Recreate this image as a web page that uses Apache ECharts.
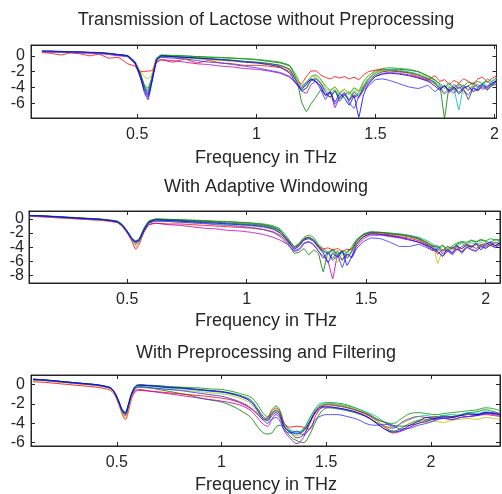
<!DOCTYPE html>
<html><head><meta charset="utf-8">
<script src="https://cdn.jsdelivr.net/npm/echarts@6.0.0/dist/echarts.min.js"></script>
<style>html,body{margin:0;padding:0;background:#fff}#c{width:502px;height:494px}</style>
</head><body><div id="c"></div>
<script>
// ---------- text ----------
const titles = ["Transmission of Lactose without Preprocessing", "With Adaptive Windowing", "With Preprocessing and Filtering"];
const xAxisName = "Frequency in THz";
const xTickValues = [0.5, 1, 1.5, 2];
const yTicks1 = [-6, -4, -2, 0];
const yTicks2 = [-8, -6, -4, -2, 0];
const yTicks3 = [-6, -4, -2, 0];

// ---------- plot 1 : without preprocessing ----------
const freq1 = [0.10,0.14,0.18,0.22,0.26,0.30,0.34,0.38,0.42,0.46,0.49,0.51,0.53,0.545,0.56,0.58,0.60,0.65,0.70,0.75,0.80,0.85,0.90,0.95,1.00,1.05,1.10,1.14,1.17,1.19,1.21,1.23,1.25,1.27,1.29,1.31,1.33,1.35,1.37,1.39,1.41,1.43,1.45,1.47,1.50,1.53,1.56,1.60,1.64,1.68,1.72,1.75,1.77,1.79,1.81,1.83,1.85,1.87,1.89,1.91,1.93,1.95,1.97,1.99,2.01];
const p1Green1 = [0.5,0.55,0.5,0.45,0.45,0.4,0.35,0.3,0.15,0.0,-0.7,-1.9,-3.8,-4.4,-3.0,-0.4,0.05,0.0,-0.05,-0.1,-0.2,-0.25,-0.3,-0.4,-0.5,-0.7,-0.9,-1.3,-3.0,-5.8,-7.0,-6.0,-5.2,-4.3,-4.8,-5.2,-4.4,-5.7,-4.9,-4.5,-5.3,-4.6,-3.8,-2.9,-2.1,-1.8,-1.7,-1.7,-1.8,-2.0,-2.5,-3.0,-3.6,-7.8,-3.9,-4.3,-3.6,-4.1,-3.8,-3.4,-3.9,-3.5,-3.2,-3.7,-3.0];
const p1Green2 = [0.55,0.55,0.5,0.5,0.45,0.4,0.35,0.3,0.15,0.0,-0.8,-2.0,-3.6,-4.1,-2.8,-0.3,0.1,0.05,0.0,-0.1,-0.15,-0.2,-0.3,-0.35,-0.45,-0.6,-0.8,-1.2,-2.6,-3.8,-3.3,-2.6,-2.4,-2.9,-3.8,-4.3,-3.9,-4.6,-4.2,-4.8,-4.0,-4.4,-3.2,-2.5,-1.9,-1.6,-1.5,-1.6,-1.7,-2.0,-2.6,-3.1,-3.5,-3.9,-3.4,-4.0,-3.5,-3.8,-3.3,-3.6,-3.2,-3.5,-2.9,-3.3,-2.6];
const p1Red = [0.4,0.3,0.1,0.35,0.25,0.0,0.2,-0.3,-0.2,-1.0,-1.3,-1.9,-2.0,-1.9,-1.9,-0.8,-0.5,-0.8,-0.4,-0.9,-0.6,-0.9,-1.0,-1.2,-1.2,-1.3,-1.5,-2.0,-3.2,-3.5,-2.6,-1.9,-1.9,-2.4,-2.7,-2.9,-2.6,-2.8,-2.6,-2.9,-2.7,-3.0,-2.4,-2.0,-1.8,-1.7,-1.8,-1.9,-2.2,-2.6,-3.0,-2.5,-3.2,-3.0,-3.6,-3.1,-3.4,-2.9,-3.2,-3.5,-2.9,-2.7,-3.3,-2.8,-2.5];
const p1Cyan = [0.55,0.5,0.5,0.45,0.4,0.4,0.35,0.25,0.1,-0.05,-0.9,-2.2,-4.0,-4.6,-3.1,-0.6,-0.1,-0.15,-0.2,-0.3,-0.4,-0.5,-0.6,-0.7,-0.8,-1.0,-1.2,-1.7,-3.2,-4.5,-4.0,-3.0,-2.8,-3.4,-4.3,-4.8,-4.2,-5.1,-4.6,-5.4,-4.4,-4.9,-3.9,-3.0,-2.2,-1.8,-1.7,-1.8,-2.0,-2.3,-2.8,-3.3,-3.8,-4.1,-3.6,-4.2,-6.8,-3.9,-4.3,-3.7,-4.0,-3.4,-3.8,-3.1,-2.8];
const p1Magenta = [0.5,0.45,0.45,0.4,0.35,0.3,0.25,0.15,0.0,-0.15,-1.0,-2.4,-4.3,-5.2,-3.4,-0.9,-0.5,-0.6,-0.8,-1.0,-1.1,-1.3,-1.4,-1.6,-1.7,-1.9,-2.2,-2.7,-3.6,-4.4,-4.7,-3.6,-3.2,-3.9,-5.0,-4.6,-6.5,-5.2,-4.8,-5.6,-4.9,-5.3,-4.2,-3.4,-2.6,-2.2,-2.1,-2.2,-2.4,-2.7,-3.1,-3.5,-4.0,-3.8,-4.4,-3.6,-4.1,-3.7,-4.3,-3.9,-3.6,-4.2,-3.8,-3.5,-3.0];
const p1Olive = [0.55,0.55,0.5,0.45,0.4,0.4,0.35,0.25,0.1,-0.05,-0.8,-1.8,-2.6,-2.9,-2.4,-0.5,-0.1,-0.2,-0.3,-0.4,-0.5,-0.6,-0.7,-0.8,-0.9,-1.1,-1.3,-1.8,-3.1,-4.0,-3.7,-2.7,-2.6,-3.2,-4.1,-4.5,-3.9,-4.8,-4.2,-4.9,-4.1,-4.6,-3.5,-2.8,-2.1,-1.9,-1.9,-2.0,-2.2,-2.5,-2.9,-3.6,-3.9,-4.6,-3.8,-4.4,-3.9,-4.7,-4.2,-3.9,-4.3,-3.8,-4.1,-3.6,-3.3];
const p1Grey = [0.6,0.55,0.5,0.5,0.45,0.4,0.35,0.25,0.1,0.0,-0.9,-2.1,-3.9,-4.8,-3.3,-0.5,-0.05,-0.1,-0.2,-0.25,-0.35,-0.45,-0.55,-0.7,-0.8,-0.95,-1.2,-1.7,-3.3,-4.3,-4.1,-3.1,-2.9,-3.5,-4.5,-5.2,-4.4,-5.4,-4.9,-5.6,-4.6,-5.1,-4.0,-3.2,-2.4,-2.0,-1.9,-2.0,-2.1,-2.4,-2.9,-3.4,-4.2,-3.8,-4.6,-4.0,-4.8,-4.2,-5.5,-4.1,-4.4,-3.9,-4.3,-3.7,-3.6];
const p1Blue2 = [0.55,0.5,0.5,0.45,0.4,0.4,0.35,0.25,0.1,-0.1,-1.0,-2.5,-4.2,-5.0,-3.2,-0.7,-0.2,-0.3,-0.4,-0.6,-0.8,-0.9,-1.1,-1.3,-1.5,-1.8,-2.1,-2.6,-3.5,-4.0,-3.4,-3.0,-3.3,-4.2,-5.5,-4.4,-6.1,-5.2,-4.6,-5.9,-6.6,-5.1,-4.3,-3.8,-3.0,-2.9,-3.1,-3.5,-3.9,-4.1,-3.7,-4.5,-4.0,-4.8,-4.2,-4.7,-3.9,-4.4,-4.9,-4.0,-4.3,-3.7,-4.2,-3.6,-3.3];
const p1Blue1 = [0.6,0.6,0.55,0.5,0.5,0.45,0.4,0.3,0.15,0.0,-0.8,-2.3,-4.6,-5.5,-3.6,-0.6,0.0,-0.1,-0.2,-0.3,-0.4,-0.5,-0.6,-0.8,-0.9,-1.1,-1.4,-2.2,-3.6,-4.2,-3.6,-2.9,-3.2,-3.8,-4.9,-4.6,-5.8,-4.7,-5.3,-6.2,-5.0,-7.7,-4.9,-3.6,-2.6,-2.3,-2.2,-2.3,-2.5,-2.8,-3.2,-3.8,-4.3,-3.7,-4.4,-3.9,-4.6,-4.0,-3.8,-4.5,-4.1,-3.6,-4.0,-3.4,-3.2];

// ---------- plot 2 : adaptive windowing ----------
const freq2 = [0.09,0.14,0.19,0.24,0.29,0.34,0.39,0.43,0.46,0.48,0.50,0.52,0.535,0.55,0.57,0.59,0.62,0.67,0.72,0.77,0.82,0.87,0.92,0.97,1.02,1.07,1.11,1.14,1.17,1.20,1.22,1.24,1.26,1.28,1.30,1.32,1.34,1.36,1.38,1.40,1.42,1.44,1.46,1.49,1.52,1.56,1.60,1.64,1.68,1.72,1.75,1.78,1.80,1.82,1.84,1.86,1.88,1.90,1.92,1.94,1.96,1.98,2.00,2.02,2.04,2.06];
const p2Green1 = [0.45,0.45,0.35,0.25,0.15,0.05,-0.05,-0.2,-0.35,-0.8,-1.7,-2.7,-3.1,-2.8,-1.3,-0.3,0.0,-0.05,-0.1,-0.2,-0.25,-0.35,-0.4,-0.5,-0.6,-0.8,-1.1,-1.6,-3.2,-4.9,-4.7,-4.2,-5.1,-4.4,-4.9,-7.5,-4.8,-5.6,-4.5,-5.9,-4.6,-4.2,-3.1,-2.2,-1.9,-2.0,-2.2,-2.3,-2.5,-2.9,-3.5,-4.0,-4.4,-3.8,-4.6,-4.1,-3.6,-3.3,-3.5,-3.1,-3.3,-3.0,-3.2,-3.4,-2.9,-3.1];
const p2Green2 = [0.5,0.45,0.4,0.3,0.2,0.1,0.0,-0.15,-0.3,-0.8,-1.7,-2.8,-3.2,-2.9,-1.4,-0.3,0.0,-0.05,-0.1,-0.15,-0.2,-0.3,-0.35,-0.45,-0.55,-0.7,-0.95,-1.4,-2.6,-3.9,-3.4,-2.6,-2.3,-2.6,-3.6,-4.2,-4.7,-4.3,-5.0,-4.5,-4.8,-3.9,-2.9,-2.1,-1.8,-1.9,-2.0,-2.2,-2.4,-2.7,-3.2,-3.8,-4.1,-3.7,-4.3,-3.8,-3.4,-3.2,-3.3,-3.0,-3.2,-2.9,-3.1,-2.8,-3.0,-2.9];
const p2Red = [0.4,0.3,0.2,0.1,0.0,-0.1,-0.2,-0.35,-0.55,-1.1,-2.0,-3.2,-4.3,-3.6,-1.9,-0.8,-0.6,-0.7,-0.7,-0.8,-0.9,-1.0,-1.1,-1.2,-1.3,-1.5,-1.8,-2.3,-3.2,-4.1,-3.6,-2.8,-2.6,-3.0,-3.8,-4.3,-4.1,-4.4,-4.2,-4.6,-4.3,-4.4,-3.4,-2.5,-2.1,-2.1,-2.3,-2.5,-2.7,-3.1,-3.6,-4.2,-5.0,-4.3,-4.6,-4.0,-4.4,-3.9,-3.6,-3.9,-3.5,-3.8,-3.4,-3.7,-3.3,-3.5];
const p2Cyan = [0.45,0.4,0.3,0.2,0.1,0.0,-0.1,-0.25,-0.45,-0.9,-1.8,-2.9,-3.4,-3.1,-1.6,-0.5,-0.2,-0.25,-0.3,-0.4,-0.45,-0.55,-0.65,-0.75,-0.85,-1.0,-1.3,-1.8,-2.9,-4.2,-3.7,-2.9,-2.6,-2.9,-3.9,-4.6,-5.0,-4.5,-5.3,-4.8,-5.1,-4.5,-3.2,-2.2,-1.9,-1.9,-2.0,-2.1,-2.3,-2.6,-3.0,-3.6,-4.0,-4.5,-3.9,-4.3,-3.8,-3.5,-3.8,-3.4,-3.6,-3.3,-3.7,-3.2,-3.5,-3.1];
const p2Magenta = [0.45,0.4,0.3,0.2,0.1,0.0,-0.1,-0.25,-0.45,-1.0,-1.9,-3.0,-3.6,-3.3,-1.8,-0.8,-0.6,-0.8,-0.9,-1.1,-1.3,-1.4,-1.6,-1.7,-1.9,-2.2,-2.6,-3.0,-3.6,-4.6,-4.4,-3.5,-3.3,-3.7,-4.6,-5.3,-6.0,-8.5,-5.2,-5.7,-5.0,-5.4,-3.9,-2.8,-2.3,-2.3,-2.5,-2.7,-3.0,-3.3,-3.8,-4.4,-4.7,-5.3,-4.6,-4.9,-4.2,-4.6,-4.0,-4.3,-4.5,-3.9,-4.1,-3.7,-4.0,-3.6];
const p2Olive = [0.45,0.4,0.3,0.2,0.1,0.0,-0.1,-0.25,-0.45,-1.0,-1.9,-3.0,-3.8,-3.4,-1.7,-0.6,-0.3,-0.35,-0.45,-0.55,-0.6,-0.7,-0.8,-0.9,-1.0,-1.2,-1.5,-2.0,-3.0,-4.2,-3.8,-2.9,-2.7,-3.1,-4.1,-4.9,-5.6,-4.7,-6.2,-5.0,-5.3,-4.7,-3.3,-2.3,-2.0,-2.0,-2.1,-2.3,-2.5,-2.8,-3.3,-3.9,-6.3,-4.4,-4.0,-4.6,-3.9,-4.2,-3.8,-4.1,-3.7,-4.0,-3.6,-3.9,-3.5,-3.7];
const p2Grey = [0.5,0.45,0.35,0.25,0.15,0.05,-0.05,-0.2,-0.4,-0.9,-1.8,-2.9,-3.3,-3.0,-1.5,-0.4,-0.1,-0.15,-0.2,-0.3,-0.35,-0.45,-0.55,-0.65,-0.75,-0.9,-1.2,-1.7,-2.8,-4.0,-3.6,-2.8,-2.6,-3.0,-3.9,-4.5,-4.9,-4.4,-5.1,-4.6,-5.6,-4.6,-3.1,-2.2,-1.9,-1.9,-2.1,-2.2,-2.4,-2.8,-3.3,-3.9,-3.8,-4.6,-3.9,-4.2,-3.7,-4.9,-4.1,-3.8,-4.2,-3.6,-3.9,-3.5,-3.8,-3.3];
const p2Blue2 = [0.45,0.4,0.3,0.2,0.1,0.0,-0.1,-0.25,-0.45,-0.95,-1.9,-2.9,-3.3,-3.1,-1.7,-0.6,-0.3,-0.35,-0.45,-0.55,-0.65,-0.8,-0.9,-1.05,-1.2,-1.5,-1.9,-2.5,-3.5,-4.5,-4.2,-3.4,-3.2,-3.6,-4.5,-5.6,-4.7,-5.9,-5.1,-6.9,-5.0,-5.5,-4.2,-3.2,-2.7,-2.8,-3.3,-3.9,-3.9,-3.6,-4.0,-4.5,-4.2,-4.9,-4.4,-5.1,-4.3,-4.7,-4.0,-4.4,-4.6,-3.9,-4.2,-3.7,-4.1,-3.5];
const p2Blue1 = [0.5,0.45,0.35,0.25,0.15,0.05,-0.05,-0.2,-0.4,-0.9,-1.8,-2.8,-3.2,-3.0,-1.6,-0.5,-0.1,-0.2,-0.3,-0.4,-0.5,-0.6,-0.7,-0.8,-0.9,-1.1,-1.4,-2.0,-3.0,-4.3,-3.8,-3.0,-2.8,-3.2,-4.0,-4.8,-6.2,-4.9,-5.4,-4.6,-6.6,-5.3,-3.6,-2.5,-2.1,-2.2,-2.4,-2.6,-2.9,-3.3,-3.7,-4.2,-4.6,-5.3,-4.3,-4.8,-3.9,-4.2,-3.7,-4.0,-3.5,-4.4,-3.6,-3.3,-3.8,-3.4];

// ---------- plot 3 : preprocessing and filtering ----------
const freq3 = [0.10,0.15,0.20,0.25,0.30,0.35,0.40,0.44,0.47,0.49,0.51,0.525,0.54,0.555,0.57,0.59,0.61,0.65,0.70,0.75,0.80,0.85,0.90,0.95,1.00,1.05,1.10,1.14,1.17,1.20,1.22,1.24,1.26,1.28,1.30,1.33,1.36,1.39,1.42,1.45,1.48,1.51,1.55,1.60,1.65,1.70,1.74,1.78,1.82,1.86,1.90,1.94,1.98,2.02,2.06,2.10,2.14,2.18,2.22,2.26,2.30,2.33];
const p3Green1 = [0.5,0.45,0.35,0.25,0.15,0.05,-0.05,-0.2,-0.4,-0.9,-1.8,-2.6,-2.9,-2.1,-1.0,-0.3,-0.2,-0.3,-0.5,-0.7,-0.9,-1.1,-1.4,-1.6,-1.8,-2.2,-2.8,-3.4,-4.3,-5.0,-5.1,-5.0,-4.4,-4.2,-4.6,-5.4,-5.8,-6.0,-5.2,-3.8,-2.7,-2.4,-2.5,-2.7,-3.0,-3.4,-3.9,-4.4,-4.8,-4.5,-4.0,-3.7,-3.6,-3.4,-3.2,-3.3,-3.1,-2.9,-2.8,-2.6,-2.8,-3.0];
const p3Green2 = [0.6,0.5,0.4,0.3,0.2,0.1,0.0,-0.15,-0.3,-0.8,-1.7,-2.5,-2.8,-2.0,-0.9,-0.1,0.0,-0.05,-0.1,-0.2,-0.25,-0.3,-0.35,-0.45,-0.5,-0.7,-1.0,-1.3,-2.0,-3.0,-3.3,-2.6,-2.2,-2.7,-4.0,-4.7,-4.9,-4.6,-3.5,-2.5,-2.0,-1.85,-1.9,-2.1,-2.5,-3.0,-3.5,-3.9,-4.0,-3.5,-3.0,-2.9,-3.0,-3.1,-3.0,-2.9,-2.8,-2.7,-2.6,-2.4,-2.5,-2.7];
const p3Red = [0.3,0.25,0.15,0.05,-0.05,-0.15,-0.25,-0.4,-0.6,-1.1,-2.1,-3.0,-3.6,-2.8,-1.5,-0.7,-0.6,-0.65,-0.75,-0.85,-0.95,-1.05,-1.15,-1.25,-1.4,-1.6,-2.0,-2.5,-3.0,-3.6,-3.4,-2.8,-2.4,-2.9,-4.0,-4.4,-4.3,-4.4,-4.6,-3.2,-2.3,-2.0,-2.1,-2.3,-2.7,-3.2,-3.7,-4.3,-4.5,-3.9,-3.5,-3.3,-3.4,-3.3,-3.5,-3.4,-3.2,-3.3,-3.1,-3.0,-3.1,-3.2];
const p3Cyan = [0.55,0.5,0.4,0.3,0.2,0.1,0.0,-0.15,-0.35,-0.85,-1.8,-2.6,-3.0,-2.1,-1.0,-0.25,-0.1,-0.15,-0.25,-0.35,-0.4,-0.5,-0.6,-0.7,-0.8,-1.0,-1.3,-1.7,-2.6,-3.5,-3.6,-3.0,-2.6,-3.0,-4.2,-4.8,-5.0,-4.7,-3.6,-2.4,-1.9,-1.9,-2.0,-2.2,-2.5,-2.9,-3.3,-3.9,-4.4,-4.0,-3.6,-3.3,-3.2,-3.4,-3.2,-3.1,-3.2,-2.9,-3.0,-2.8,-2.9,-3.0];
const p3Magenta = [0.5,0.45,0.35,0.25,0.15,0.05,-0.05,-0.2,-0.4,-0.95,-1.9,-2.8,-3.2,-2.4,-1.2,-0.6,-0.5,-0.65,-0.8,-0.95,-1.1,-1.25,-1.4,-1.55,-1.7,-1.9,-2.2,-2.7,-3.4,-4.1,-4.3,-3.6,-3.1,-3.5,-4.8,-5.6,-6.1,-5.5,-4.1,-2.9,-2.4,-2.3,-2.4,-2.6,-2.9,-3.4,-4.0,-4.6,-5.0,-4.8,-4.4,-4.0,-3.7,-3.6,-3.5,-3.6,-3.4,-3.3,-3.2,-3.1,-3.2,-3.3];
const p3Olive = [0.45,0.4,0.3,0.2,0.1,0.0,-0.1,-0.25,-0.45,-1.0,-2.0,-2.9,-3.4,-2.6,-1.3,-0.4,-0.3,-0.35,-0.4,-0.5,-0.55,-0.65,-0.75,-0.85,-0.95,-1.15,-1.5,-2.0,-2.8,-3.6,-3.8,-3.1,-2.7,-3.1,-4.3,-5.0,-5.3,-4.9,-3.8,-2.6,-2.1,-2.0,-2.1,-2.3,-2.6,-3.1,-3.7,-4.4,-5.0,-4.5,-4.0,-3.8,-3.9,-3.8,-3.9,-3.7,-3.6,-3.5,-3.6,-3.4,-3.5,-3.6];
const p3Grey = [0.55,0.5,0.4,0.3,0.2,0.1,0.0,-0.15,-0.35,-0.85,-1.8,-2.7,-3.1,-2.2,-1.0,-0.2,-0.05,-0.1,-0.15,-0.25,-0.3,-0.4,-0.5,-0.6,-0.7,-0.9,-1.2,-1.6,-2.4,-3.3,-3.5,-3.0,-2.7,-3.1,-4.3,-5.0,-5.5,-5.2,-4.0,-2.7,-2.2,-2.1,-2.2,-2.4,-2.7,-3.1,-3.6,-3.9,-4.2,-4.3,-4.2,-4.0,-3.8,-3.5,-3.4,-3.3,-3.2,-3.1,-3.1,-2.9,-3.0,-3.1];
const p3Blue2 = [0.5,0.45,0.35,0.25,0.15,0.05,-0.05,-0.2,-0.4,-0.9,-1.9,-2.7,-3.0,-2.2,-1.1,-0.4,-0.25,-0.3,-0.4,-0.5,-0.6,-0.75,-0.9,-1.05,-1.2,-1.5,-1.9,-2.4,-3.0,-3.7,-4.0,-3.6,-3.4,-3.8,-4.7,-5.0,-4.8,-5.2,-4.6,-3.6,-3.2,-3.1,-3.1,-3.3,-3.6,-4.1,-4.2,-4.1,-4.3,-4.6,-4.5,-4.2,-4.0,-3.7,-3.5,-3.6,-3.4,-3.3,-3.2,-3.0,-2.9,-3.0];
const p3Blue1 = [0.55,0.5,0.4,0.3,0.2,0.1,0.0,-0.15,-0.35,-0.85,-1.8,-2.6,-2.9,-2.1,-1.0,-0.2,-0.05,-0.1,-0.2,-0.3,-0.35,-0.45,-0.55,-0.65,-0.75,-0.95,-1.3,-1.8,-2.6,-3.5,-3.7,-3.2,-2.9,-3.3,-4.4,-4.9,-5.1,-4.8,-3.9,-2.8,-2.3,-2.3,-2.4,-2.6,-2.9,-3.4,-4.0,-4.6,-4.9,-4.7,-4.2,-3.8,-3.4,-3.5,-3.3,-3.4,-3.2,-3.0,-3.1,-2.9,-3.0,-3.1];

// ---------- series colours (MATLAB line order) ----------
const lineColors = {green1:'#008000', green2:'#00a000', red:'#ff0000', cyan:'#00bfbf', magenta:'#bf00bf', olive:'#bfbf00', grey:'#404040', blue2:'#3030ff', blue1:'#0000ff'};
const plots = [
  {x: freq1, xr:[0.054,2.008], yr:[-7.8,1.35], yt:yTicks1, grid:{left:31,top:45,width:469,height:73}, axisYLabels:true,
   lines:{green1:p1Green1,green2:p1Green2,red:p1Red,cyan:p1Cyan,magenta:p1Magenta,olive:p1Olive,grey:p1Grey,blue2:p1Blue2,blue1:p1Blue1}, smooth:0.1},
  {x: freq2, xr:[0.089,2.06], yr:[-9.1,1.14], yt:yTicks2, grid:{left:29,top:211,width:471,height:72}, axisYLabels:false,
   lines:{green1:p2Green1,green2:p2Green2,red:p2Red,cyan:p2Cyan,magenta:p2Magenta,olive:p2Olive,grey:p2Grey,blue2:p2Blue2,blue1:p2Blue1}, smooth:0.1},
  {x: freq3, xr:[0.09,2.33], yr:[-6.35,1.0], yt:yTicks3, grid:{left:31,top:375,width:469,height:71}, axisYLabels:true,
   lines:{green1:p3Green1,green2:p3Green2,red:p3Red,cyan:p3Cyan,magenta:p3Magenta,olive:p3Olive,grey:p3Grey,blue2:p3Blue2,blue1:p3Blue1}, smooth:0.4}
];

const FONT = '"Liberation Sans", Arial, Helvetica, sans-serif';
const TXT = '#262626';
const grids = [], xAxes = [], yAxes = [], series = [], graphics = [];
plots.forEach((p, i) => {
  grids.push(Object.assign({show:true, borderColor:TXT, borderWidth:1, backgroundColor:'transparent'}, p.grid));
  const tick = {show:true, inside:true, length:4, lineStyle:{color:TXT, width:1}};
  const line = {show:true, onZero:false, lineStyle:{color:TXT, width:1}};
  xAxes.push({type:'value', gridIndex:i, min:p.xr[0], max:p.xr[1], position:'bottom',
    axisLine:line, axisTick:Object.assign({customValues:xTickValues}, tick),
    axisLabel:{customValues:xTickValues, interval:0, hideOverlap:false, margin:9, fontSize:16, color:TXT, fontFamily:FONT}, splitLine:{show:false}});
  xAxes.push({type:'value', gridIndex:i, min:p.xr[0], max:p.xr[1], position:'top',
    axisLine:line, axisTick:Object.assign({customValues:xTickValues}, tick),
    axisLabel:{show:false}, splitLine:{show:false}});
  yAxes.push({type:'value', gridIndex:i, min:p.yr[0], max:p.yr[1], position:'left',
    axisLine:line, axisTick:Object.assign({customValues:p.yt}, tick),
    axisLabel:{show:p.axisYLabels, customValues:p.yt, interval:0, hideOverlap:false, margin:6, fontSize:16, color:TXT, fontFamily:FONT}, splitLine:{show:false}});
  yAxes.push({type:'value', gridIndex:i, min:p.yr[0], max:p.yr[1], position:'right',
    axisLine:line, axisTick:Object.assign({customValues:p.yt}, tick),
    axisLabel:{show:false}, splitLine:{show:false}});
  Object.keys(p.lines).forEach(k => {
    const ys = p.lines[k];
    series.push({type:'line', xAxisIndex:2*i, yAxisIndex:2*i, showSymbol:false, symbol:'none',
      smooth:p.smooth, animation:false, clip:true,
      lineStyle:{color:lineColors[k], width:1, opacity:0.85},
      data:p.x.map((xv, j) => [xv, ys[j]])});
  });
});
const titleY = [20, 187, 353];
const nameY = [158, 321, 485];
titles.forEach((t, i) => {
  graphics.push({type:'text', x:266, y:titleY[i], style:{text:t, fill:TXT, font:'18px ' + FONT, textAlign:'center', textVerticalAlign:'middle'}});
  graphics.push({type:'text', x:266, y:nameY[i], style:{text:xAxisName, fill:TXT, font:'18px ' + FONT, textAlign:'center', textVerticalAlign:'middle'}});
});

const chart = echarts.init(document.getElementById('c'), null, {renderer:'canvas'});
chart.setOption({backgroundColor:'#ffffff', animation:false, grid:grids, xAxis:xAxes, yAxis:yAxes, series:series, graphic:graphics});

// Plot 2 y tick labels sit closer than their height (as in the original), so place them
// through the axis scale with convertToPixel to keep all of them visible.
plots.forEach((p, i) => {
  if (p.axisYLabels) return;
  p.yt.forEach(v => {
    const py = chart.convertToPixel({yAxisIndex: 2 * i}, v);
    graphics.push({type:'text', x:p.grid.left - 5, y:py, style:{text:String(v), fill:TXT, font:'16px ' + FONT, textAlign:'right', textVerticalAlign:'middle'}});
  });
});
chart.setOption({graphic:graphics});
</script></body></html>
